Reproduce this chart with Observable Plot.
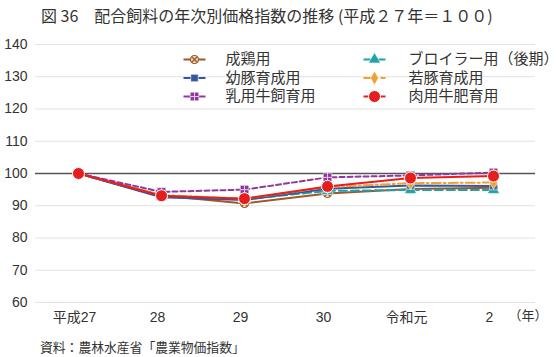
<!DOCTYPE html>
<html><head><meta charset="utf-8">
<script src="https://cdn.jsdelivr.net/npm/d3@7"></script>
<script src="https://cdn.jsdelivr.net/npm/@observablehq/plot@0.6"></script>
<style>
body{margin:0;background:#fff;font-family:"Liberation Sans","Noto Sans CJK JP",sans-serif;}
#wrap{position:relative;width:558px;height:357px;overflow:hidden;}
#title{height:30px;line-height:30px;padding-left:41px;font-size:16px;color:#333;white-space:nowrap;font-family:"Noto Sans CJK JP",sans-serif;letter-spacing:0px;}
#cap{padding-left:40px;padding-top:8px;line-height:20px;font-size:12.8px;color:#333;}
#legend{position:absolute;left:0;top:0;}
</style></head><body>
<div id="wrap">
<div id="title">図 36　配合飼料の年次別価格指数の推移 (平成２７年＝１００)</div>
<div id="chart"></div>
<div id="cap">資料：農林水産省「農業物価指数」</div>
<div id="legend"></div>
</div>
<script>
const years = ["平成27","28","29","30","令和元","2"];
const seriesNames = ["成鶏用","ブロイラー用（後期）","幼豚育成用","若豚育成用","乳用牛飼育用","肉用牛肥育用"];
const seikei   = [100, 93.2, 90.7, 93.8, 95.2, 95.6];
const broiler  = [100, 92.8, 92.0, 94.6, 94.9, 94.9];
const youton   = [100, 92.6, 91.8, 95.3, 96.3, 96.1];
const jakuton  = [100, 93.3, 92.2, 95.8, 97.0, 97.2];
const nyuyou   = [100, 94.3, 95.0, 98.8, 99.4, 100.3];
const nikuyou  = [100, 93.1, 92.2, 96.0, 98.6, 99.2];
const yTicks = [60,70,80,90,100,110,120,130,140];

const values = [seikei, broiler, youton, jakuton, nyuyou, nikuyou];
const styles = {
  "成鶏用":        {color:"#9c5a28", dash:null},
  "ブロイラー用（後期）":{color:"#1fa3a6", dash:"8,4"},
  "幼豚育成用":     {color:"#3556a3", dash:null},
  "若豚育成用":     {color:"#f2a131", dash:"9,3,2,3"},
  "乳用牛飼育用":   {color:"#8e3a9c", dash:"5,3"},
  "肉用牛肥育用":   {color:"#e61e1e", dash:null}
};
const table = seriesNames.map((s,i)=>years.map((y,j)=>({series:s, year:y, value:values[i][j]})));

function markerMarks(data, s, xAcc, yAcc) {
  const c = styles[s].color;
  const o = {x:xAcc, y:yAcc};
  switch (s) {
    case "成鶏用": return [
      Plot.dot(data, {...o, r:4, fill:"#f4dcc4", stroke:c, strokeWidth:1.2}),
      Plot.dot(data, {...o, r:2.6, symbol:"times", stroke:c, strokeWidth:1.3})];
    case "ブロイラー用（後期）": return [Plot.dot(data, {...o, r:4.5, symbol:"triangle", fill:c, stroke:"#fff", strokeWidth:0.6})];
    case "幼豚育成用": return [Plot.dot(data, {...o, r:4.2, symbol:"square", fill:c, stroke:"#fff", strokeWidth:0.6})];
    case "若豚育成用": return [Plot.dot(data, {...o, r:4.2, symbol:"diamond", fill:c, stroke:"#fff", strokeWidth:0.6})];
    case "乳用牛飼育用": return [
      Plot.dot(data, {...o, r:4.8, symbol:"square", fill:c, stroke:"#fff", strokeWidth:0.5}),
      Plot.dot(data, {...o, r:3, symbol:"plus", stroke:"#e6c8ee", strokeWidth:1})];
    case "肉用牛肥育用": return [Plot.dot(data, {...o, r:6, fill:c, stroke:"#fff", strokeWidth:1})];
  }
}

const marks = [
  Plot.ruleY(yTicks, {stroke:"#e2e2e2", strokeWidth:1}),
  Plot.ruleY([100], {stroke:"#555", strokeWidth:1.6}),
  Plot.axisY({ticks:yTicks, tickSize:0, tickPadding:8, fontSize:14, fill:"#333"}),
  Plot.axisX({tickSize:0, tickPadding:10, fontSize:14, fill:"#333", dx:-4}),
  Plot.text(["（年）"], {frameAnchor:"bottom-right", dx:12, dy:17, textAnchor:"end", fontSize:13, fill:"#333"})
];
seriesNames.forEach((s,i)=>{
  marks.push(Plot.lineY(table[i], {x:"year", y:"value", stroke:styles[s].color, strokeWidth:2, strokeDasharray:styles[s].dash}));
});
seriesNames.forEach((s,i)=>{ marks.push(...markerMarks(table[i], s, "year", "value")); });

const chart = Plot.plot({
  width:558, height:300,
  marginLeft:35, marginRight:23, marginTop:14, marginBottom:28,
  style:{fontFamily:'"Liberation Sans","Noto Sans CJK JP",sans-serif', background:"transparent"},
  x:{type:"point", domain:years, padding:0.51, label:null},
  y:{domain:[60,140], label:null},
  marks
});
document.getElementById("chart").appendChild(chart);

// legend
const legItems = seriesNames.map((s,i)=>({series:s, col: i%2, row: Math.floor(i/2)}));
const lx = d => d.col === 0 ? 194 : 374;
const ly = d => [59, 77.5, 96][d.row];
const legMarks = [];
legItems.forEach(d=>{
  const st = styles[d.series];
  legMarks.push(Plot.link([d], {x1:d=>lx(d)-11, x2:d=>lx(d)+11, y1:ly, y2:ly, stroke:st.color, strokeWidth:2, strokeDasharray: d.series==="若豚育成用" ? "9,3,2,3" : null}));
  legMarks.push(...markerMarks([d], d.series, lx, ly));
  legMarks.push(Plot.text([d], {x:d=>d.col===0?225:408, y:ly, text:"series", textAnchor:"start", fontSize:15, fill:"#333"}));
});
const legend = Plot.plot({
  width:558, height:120, margin:0,
  style:{fontFamily:'"Liberation Sans","Noto Sans CJK JP",sans-serif', background:"transparent"},
  x:{type:"identity"}, y:{type:"identity"},
  axis:null,
  marks: legMarks
});
document.getElementById("legend").appendChild(legend);
</script>
</body></html>
